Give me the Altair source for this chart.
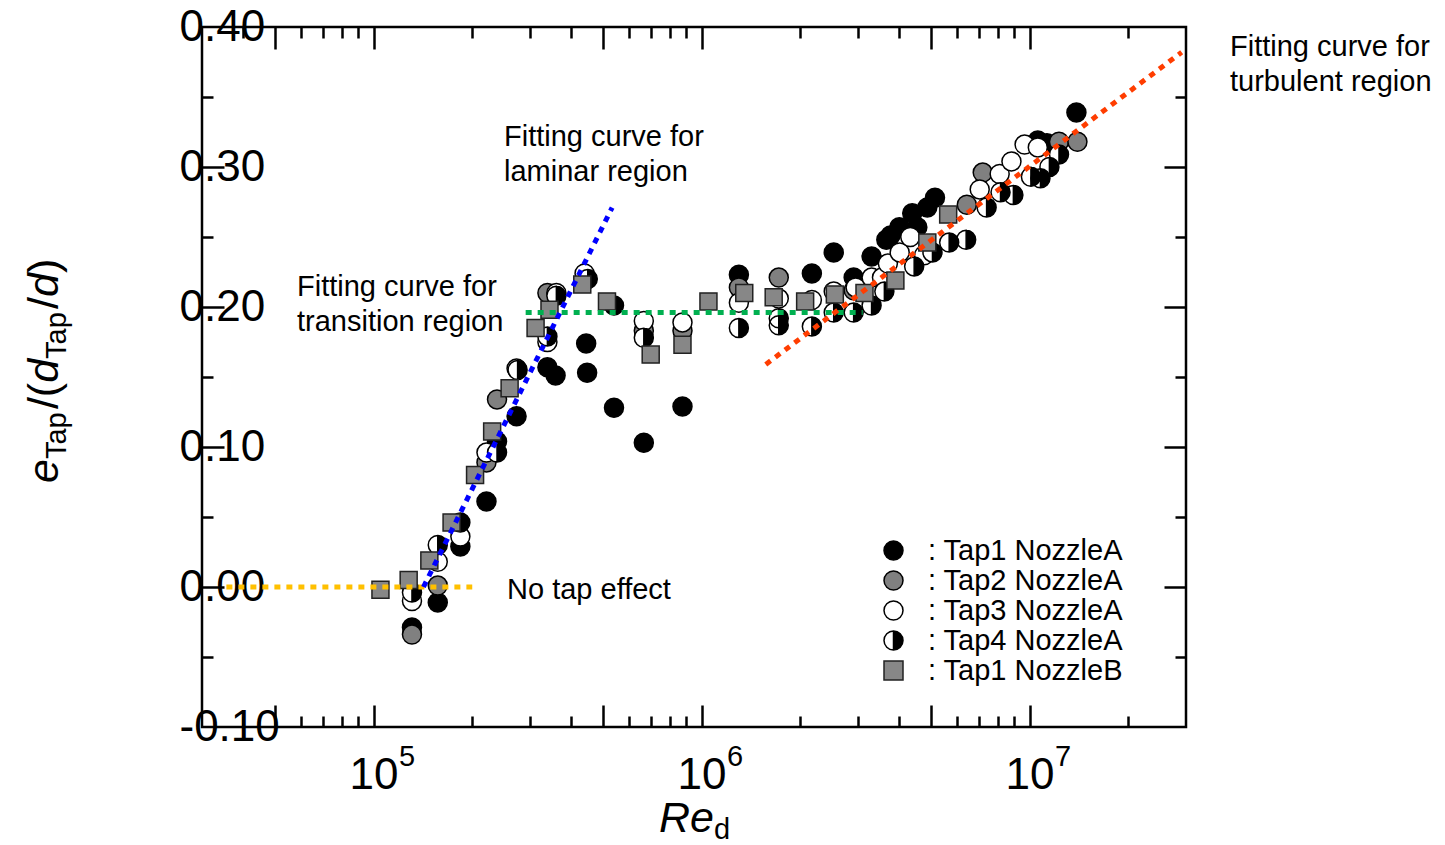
import altair as alt
import pandas as pd

# ---------------- data ----------------
SERIES = ["Tap1 NozzleA", "Tap2 NozzleA", "Tap3 NozzleA", "Tap4 NozzleA", "Tap1 NozzleB"]

tap1A_re = [1.31e5, 1.57e5, 1.84e5, 2.21e5, 2.38e5, 2.73e5, 3.39e5, 3.59e5, 4.45e5, 4.48e5,
            5.41e5, 5.41e5, 6.67e5, 8.75e5, 1.30e6, 2.17e6, 2.53e6, 2.91e6, 3.30e6, 3.66e6,
            3.77e6, 4.01e6, 4.39e6, 4.55e6, 4.88e6, 5.15e6, 1.06e7, 1.13e7, 1.39e7]
tap1A_val = [-0.029, -0.011, 0.029, 0.061, 0.104, 0.122, 0.157, 0.151, 0.174, 0.153,
             0.201, 0.128, 0.103, 0.129, 0.223, 0.224, 0.239, 0.221, 0.236, 0.248,
             0.251, 0.257, 0.267, 0.257, 0.271, 0.278, 0.319, 0.317, 0.339]

tap2A_re = [1.31e5, 1.57e5, 2.21e5, 2.38e5, 3.39e5, 6.67e5, 8.75e5, 1.30e6, 1.72e6, 2.91e6,
            6.44e6, 7.2e6, 1.23e7, 1.40e7]
tap2A_val = [-0.034, 0.001, 0.089, 0.134, 0.210, 0.183, 0.183, 0.214, 0.221, 0.212,
             0.273, 0.296, 0.318, 0.318]

tap3A_re = [1.31e5, 1.57e5, 1.84e5, 2.21e5, 2.73e5, 3.39e5, 3.61e5, 4.40e5, 6.67e5, 8.75e5,
            1.30e6, 1.72e6, 2.17e6, 2.53e6, 2.95e6, 3.30e6, 3.55e6, 3.70e6, 4.02e6, 4.33e6,
            4.77e6, 7.05e6, 8.11e6, 8.81e6, 9.66e6, 1.06e7]
tap3A_val = [-0.010, 0.018, 0.036, 0.096, 0.156, 0.175, 0.210, 0.224, 0.190, 0.189,
             0.203, 0.206, 0.205, 0.211, 0.214, 0.221, 0.221, 0.231, 0.239, 0.250,
             0.237, 0.284, 0.295, 0.304, 0.316, 0.314]

tap4A_re = [1.31e5, 1.57e5, 1.84e5, 2.38e5, 2.75e5, 3.39e5, 3.61e5, 4.50e5, 6.67e5, 1.30e6,
            1.72e6, 1.72e6, 2.17e6, 2.53e6, 2.91e6, 3.30e6, 3.61e6, 4.45e6, 5.06e6, 5.69e6,
            6.41e6, 7.40e6, 8.16e6, 8.93e6, 1.01e7, 1.08e7, 1.15e7, 1.23e7]
tap4A_val = [-0.004, 0.030, 0.046, 0.096, 0.155, 0.179, 0.208, 0.220, 0.178, 0.185,
             0.192, 0.187, 0.186, 0.196, 0.196, 0.201, 0.211, 0.229, 0.239, 0.246,
             0.248, 0.271, 0.282, 0.280, 0.293, 0.292, 0.300, 0.309]

tap1B_re = [1.05e5, 1.28e5, 1.48e5, 1.73e5, 2.04e5, 2.30e5, 2.60e5, 3.12e5, 3.44e5, 4.33e5,
            5.15e5, 7.00e5, 8.75e5, 1.05e6, 1.35e6, 1.66e6, 2.07e6, 2.55e6, 3.14e6, 3.90e6,
            4.88e6, 5.65e6]
tap1B_val = [-0.002, 0.005, 0.019, 0.046, 0.080, 0.111, 0.142, 0.185, 0.198, 0.216,
             0.204, 0.166, 0.173, 0.204, 0.210, 0.207, 0.204, 0.209, 0.210, 0.219,
             0.246, 0.266]

# fitting curves (end points)
notap_re = [3.56e4, 2.0e5]
notap_val = [0.0, 0.0]
laminar_re = [1.42e5, 5.34e5]
laminar_val = [0.0, 0.271]
transition_re = [2.91e5, 3.10e6]
transition_val = [0.196, 0.196]
turbulent_re = [1.57e6, 2.91e7]
turbulent_val = [0.159, 0.382]

# axis ticks / labels
x_major_ticks = [5e4, 1e5, 5e5, 1e6, 5e6, 1e7]
x_minor_ticks = [4e4, 6e4, 7e4, 8e4, 9e4, 2e5, 3e5, 4e5, 6e5, 7e5, 8e5, 9e5,
                 2e6, 3e6, 4e6, 6e6, 7e6, 8e6, 9e6, 2e7]
x_label_values = [1e5, 1e6, 1e7]
y_major_ticks = [0.0, 0.1, 0.2, 0.3]
y_minor_ticks = [-0.05, 0.05, 0.15, 0.25, 0.35]
y_label_values = [-0.1, 0.0, 0.1, 0.2, 0.3, 0.4]

# annotation texts
txt_laminar = ["Fitting curve for", "laminar region"]
txt_transition = ["Fitting curve for", "transition region"]
txt_notap = "No tap effect"
txt_turbulent = ["Fitting curve for", "turbulent region"]

# ---------------- build tables ----------------
series_data = [
    (SERIES[0], tap1A_re, tap1A_val),
    (SERIES[1], tap2A_re, tap2A_val),
    (SERIES[2], tap3A_re, tap3A_val),
    (SERIES[3], tap4A_re, tap4A_val),
    (SERIES[4], tap1B_re, tap1B_val),
]
rows = []
for name, res, vals in series_data:
    for r, v in zip(res, vals):
        rows.append({"Re": r, "val": v, "series": name})
pts = pd.DataFrame(rows)

FONT = "Liberation Sans"
W, H = 984, 700
LONG, SHORT = 22, 11
TXT = 29
TICK_FS = 44

xs = alt.Scale(type="log", domain=[3e4, 3e7], nice=False)
ys = alt.Scale(domain=[-0.1, 0.4], nice=False, zero=False)

# circle with its right half filled (left half left open)
HALF = ("M0,-1C0.5523,-1,1,-0.5523,1,0C1,0.5523,0.5523,1,0,1"
        "C-0.5523,1,-1,0.5523,-1,0C-1,-0.5523,-0.5523,-1,0,-1Z"
        "M0,-1C-0.5523,-1,-1,-0.5523,-1,0C-1,0.5523,-0.5523,1,0,1Z")

fill_scale = alt.Scale(domain=SERIES, range=["black", "#808080", "white", "black", "#878787"])
shape_scale = alt.Scale(domain=SERIES, range=["circle", "circle", "circle", HALF, "square"])
stroke_scale = alt.Scale(domain=SERIES, range=["black", "black", "black", "black", "#222222"])
legend = alt.Legend(
    title=None, orient="none", legendX=677, legendY=509, padding=0,
    labelFont=FONT, labelFontSize=TXT, labelColor="black", labelOffset=20,
    labelExpr="': ' + datum.label", labelLimit=400,
    symbolSize=361, symbolStrokeWidth=1.5,
    symbolOpacity=1, rowPadding=0,
)

def X(axis=None):
    return alt.X("Re:Q", scale=xs, axis=axis)

def Y(axis=None):
    return alt.Y("val:Q", scale=ys, axis=axis)

# ---------------- axes (inward ticks via negative offsets) ----------------
def tick_axis(orient, values, length):
    return alt.Axis(orient=orient, values=values, labels=False, domain=False, grid=False,
                    ticks=True, tickSize=length, tickWidth=2.5, tickColor="black",
                    offset=-length, title=None)

carrier_df = pd.DataFrame({"Re": x_label_values, "val": [0.0] * len(x_label_values)})

def carrier(xaxis, yaxis):
    return alt.Chart(carrier_df).mark_point(opacity=0).encode(x=X(xaxis), y=Y(yaxis))

x_lab_axis = alt.Axis(orient="bottom", values=x_label_values, labelExpr="'10'",
                      ticks=False, tickSize=0, domain=False, grid=False,
                      labelFont=FONT, labelFontSize=TICK_FS, labelColor="black",
                      labelPadding=26, labelAlign="center", labelBaseline="top",
                      labelFlush=False, labelOverlap=False, labelBound=False, title=None)
x_exp_axis = alt.Axis(orient="bottom", values=x_label_values,
                      labelExpr="format(log(datum.value)/LN10, '.0f')",
                      ticks=False, tickSize=0, domain=False, grid=False,
                      labelFont=FONT, labelFontSize=29, labelColor="black",
                      labelPadding=15, labelOffset=33, labelAlign="center", labelBaseline="top",
                      labelFlush=False, labelOverlap=False, labelBound=False, title=None)
y_lab_axis = alt.Axis(orient="left", values=y_label_values,
                      labelExpr="datum.value < 0 ? '-' + format(-datum.value, '.2f') : format(datum.value, '.2f')",
                      ticks=False, tickSize=0, domain=False, grid=False,
                      labelFont=FONT, labelFontSize=TICK_FS, labelColor="black",
                      labelPadding=23, labelAlign="left", labelBaseline="middle",
                      labelFlush=False, labelOverlap=False, labelBound=False, title=None)

axes_layers = [
    carrier(tick_axis("bottom", x_major_ticks, LONG), tick_axis("left", y_major_ticks, LONG)),
    carrier(tick_axis("bottom", x_minor_ticks, SHORT), tick_axis("left", y_minor_ticks, SHORT)),
    carrier(tick_axis("top", x_major_ticks, LONG), tick_axis("right", y_major_ticks, LONG)),
    carrier(tick_axis("top", x_minor_ticks, SHORT), tick_axis("right", y_minor_ticks, SHORT)),
    carrier(x_lab_axis, y_lab_axis),
    carrier(x_exp_axis, None),
]

# ---------------- points ----------------
def pts_layer(names, size):
    return alt.Chart(pts).transform_filter(
        alt.FieldOneOfPredicate(field="series", oneOf=names)
    ).mark_point(filled=True, strokeWidth=1.5, opacity=1, size=size).encode(
        x=X(), y=Y(),
        fill=alt.Fill("series:N", scale=fill_scale, legend=legend),
        shape=alt.Shape("series:N", scale=shape_scale, legend=legend),
        stroke=alt.Stroke("series:N", scale=stroke_scale, legend=legend),
    )

circles = pts_layer(SERIES[:3], 361)
half_under = alt.Chart(pts).transform_filter(
    alt.FieldEqualPredicate(field="series", equal=SERIES[3])
).mark_point(filled=True, shape="circle", size=361, fill="white", strokeWidth=0, opacity=1).encode(
    x=X(), y=Y())
halves = pts_layer([SERIES[3]], 361)
squares = pts_layer([SERIES[4]], 289)

# ---------------- fitting curves ----------------
def fit_line(res, vals, color):
    d = pd.DataFrame({"Re": res, "val": vals})
    return alt.Chart(d).mark_line(color=color, strokeWidth=5, strokeDash=[6, 6],
                                  strokeCap="butt").encode(x=X(), y=Y())

lines = [
    fit_line(notap_re, notap_val, "#FFC000"),
    fit_line(laminar_re, laminar_val, "#0000FF"),
    fit_line(transition_re, transition_val, "#00B050"),
    fit_line(turbulent_re, turbulent_val, "#FF3D00"),
]

# ---------------- texts ----------------
dummy = pd.DataFrame({"k": [0]})

def label(text, x, y, size=TXT, style="normal", angle=0, line_height=35):
    return alt.Chart(dummy).mark_text(
        text=text, font=FONT, fontSize=size, fontStyle=style, color="black",
        align="left", baseline="alphabetic", angle=angle, lineHeight=line_height,
    ).encode(x=alt.value(x), y=alt.value(y))

texts = [
    label(txt_laminar, 302, 119),
    label(txt_transition, 95, 269),
    label(txt_notap, 305, 572),
    label(txt_turbulent, 1028, 29),
    # x title  Re_d
    label("Re", 457, 805, size=43, style="italic"),
    label("d", 512, 812, size=29),
]

# y title  e_Tap/(d_Tap/d), rotated, pieces from bottom to top
ytitle_pieces = [
    ("e", "italic", 43, -144, 456.0),
    ("Tap", "normal", 29, -136, 432.1),
    ("/(", "normal", 43, -144, 382.1),
    ("d", "italic", 43, -144, 355.8),
    ("Tap", "normal", 29, -136, 331.9),
    ("/", "normal", 43, -144, 281.9),
    ("d", "italic", 43, -144, 270.0),
    (")", "normal", 43, -144, 246.1),
]
for t, st, sz, px, py in ytitle_pieces:
    texts.append(label(t, px, py, size=sz, style=st, angle=270))

chart = alt.layer(
    *axes_layers, circles, half_under, halves, squares, *lines, *texts
).resolve_axis(
    x="independent", y="independent"
).properties(
    width=W, height=H,
    autosize=alt.AutoSizeParams(type="none"),
    padding={"left": 202, "top": 27, "right": 259, "bottom": 118},
).configure_view(
    stroke="black", strokeWidth=2.5
)

chart.save("out.html", embed_options={"renderer": "svg", "actions": False})
